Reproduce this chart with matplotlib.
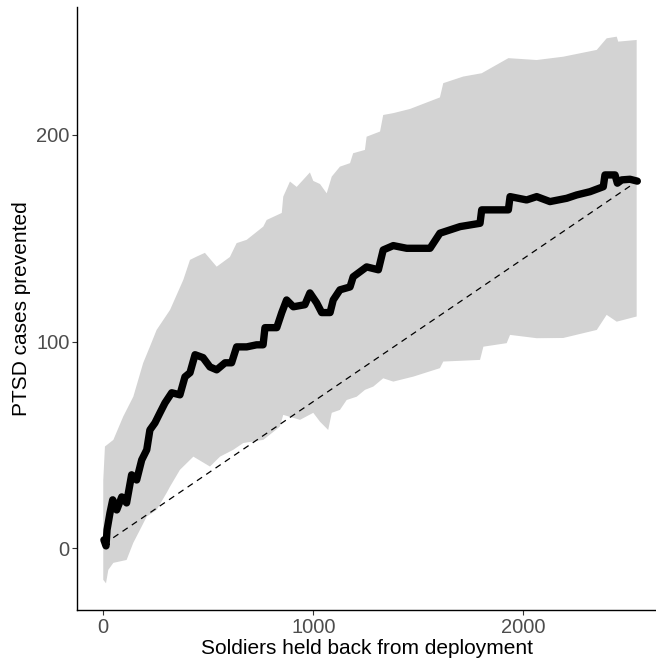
import matplotlib
matplotlib.use("Agg")
import matplotlib.pyplot as plt

plt.rcParams['font.family'] = ['Liberation Sans', 'DejaVu Sans']

# mean curve of PTSD cases prevented
mean_x = [3, 13, 18, 32, 45, 64, 88, 111, 135, 159, 183, 207, 222, 246, 270, 294,
          326, 365, 389, 413, 437, 475, 508, 540, 580, 611, 635, 683, 730, 761,
          770, 826, 850, 873, 905, 960, 984, 1016, 1040, 1080, 1095, 1127, 1175,
          1190, 1254, 1310, 1333, 1381, 1445, 1556, 1603, 1699, 1794, 1802, 1929,
          1937, 2016, 2064, 2127, 2207, 2254, 2318, 2381, 2389, 2437, 2448, 2469,
          2508, 2543]
mean_y = [4.0, 1.1, 8.9, 17.1, 23.4, 18.5, 24.8, 21.9, 35.5, 33.0, 42.7, 47.6, 57.2,
          60.6, 65.5, 70.3, 75.2, 74.2, 82.9, 84.9, 93.6, 92.2, 87.7, 86.3, 89.7,
          89.7, 97.4, 97.4, 98.4, 98.4, 106.7, 106.7, 114.0, 120.1, 116.8, 117.8,
          123.5, 118.7, 114.0, 114.0, 120.1, 125.0, 126.4, 131.3, 136.1, 134.7,
          144.3, 146.4, 145.1, 145.1, 152.4, 155.6, 157.2, 163.7, 163.7, 170.1,
          168.5, 170.1, 167.7, 169.3, 170.9, 172.5, 174.9, 180.6, 180.6, 176.6,
          178.2, 178.5, 177.6]

# upper bound of interval
upper_x = [0, 8, 48, 95, 143, 190, 222, 254, 318, 381, 413, 445, 484, 540, 603, 635,
           683, 762, 778, 850, 857, 889, 921, 984, 1000, 1032, 1064, 1088, 1127,
           1175, 1190, 1246, 1254, 1318, 1333, 1381, 1460, 1603, 1619, 1714, 1802,
           1929, 2064, 2190, 2350, 2397, 2445, 2452, 2540]
upper_y = [33.0, 49.2, 52.4, 63.7, 73.3, 89.6, 97.5, 105.6, 115.3, 129.8, 139.5,
           141.1, 142.9, 136.2, 140.9, 147.6, 149.2, 155.6, 158.8, 162.2, 170.1,
           177.4, 174.8, 181.8, 177.7, 176.2, 171.7, 179.8, 184.6, 186.3, 191.1,
           192.7, 199.1, 201.6, 209.6, 210.5, 212.5, 218.1, 225.0, 228.2, 229.8,
           237.1, 236.2, 237.8, 241.1, 246.7, 247.5, 245.1, 245.9]

# lower bound of interval
lower_x = [0, 13, 24, 48, 111, 143, 175, 207, 254, 302, 318, 365, 429, 508, 556, 619,
           667, 762, 841, 857, 937, 1000, 1032, 1071, 1088, 1127, 1159, 1207, 1246,
           1286, 1333, 1381, 1476, 1603, 1619, 1794, 1810, 1921, 1937, 2064, 2190,
           2350, 2397, 2445, 2540]
lower_y = [-15.3, -17.0, -10.5, -7.1, -5.7, 2.6, 8.9, 15.3, 18.5, 26.8, 29.8, 37.9,
           44.3, 39.5, 44.3, 47.6, 50.9, 52.4, 58.8, 64.5, 62.1, 65.5, 61.2, 57.2,
           65.5, 66.9, 71.7, 73.3, 76.6, 78.2, 82.2, 80.6, 83.0, 87.1, 90.3, 91.1,
           97.5, 99.2, 103.2, 101.6, 101.7, 105.6, 112.9, 109.6, 112.1]

fig = plt.figure(figsize=(6.56, 6.59), dpi=100)
ax = fig.add_axes([0.1178, 0.0744, 0.8822, 0.9145])

# ribbon: polygon from upper and lower bounds
poly_x = upper_x + lower_x[::-1]
poly_y = upper_y + lower_y[::-1]
ax.fill(poly_x, poly_y, color='#D3D3D3', lw=0)

ax.plot([mean_x[0], mean_x[-1]], [mean_y[0] - 2, mean_y[-1]], color='black',
        lw=0.9, ls=(0, (5, 4)))
ax.plot(mean_x, mean_y, color='black', lw=5.3, solid_joinstyle='round',
        solid_capstyle='round')

ax.set_xlim(-123.8, 2632)
ax.set_ylim(-29.9, 261.7)
ax.set_xticks([0, 1000, 2000])
ax.set_yticks([0, 100, 200])

for s in ['top', 'right']:
    ax.spines[s].set_visible(False)
for s in ['left', 'bottom']:
    ax.spines[s].set_linewidth(1.0)
    ax.spines[s].set_color('black')

ax.tick_params(axis='both', length=3.5, width=0.8, color='#333333',
               labelcolor='#4D4D4D', labelsize=14.5, pad=2)
ax.set_xlabel('Soldiers held back from deployment', fontsize=15, labelpad=1.5)
ax.set_ylabel('PTSD cases prevented', fontsize=15, labelpad=4)

fig.savefig('out.png', dpi=100)
